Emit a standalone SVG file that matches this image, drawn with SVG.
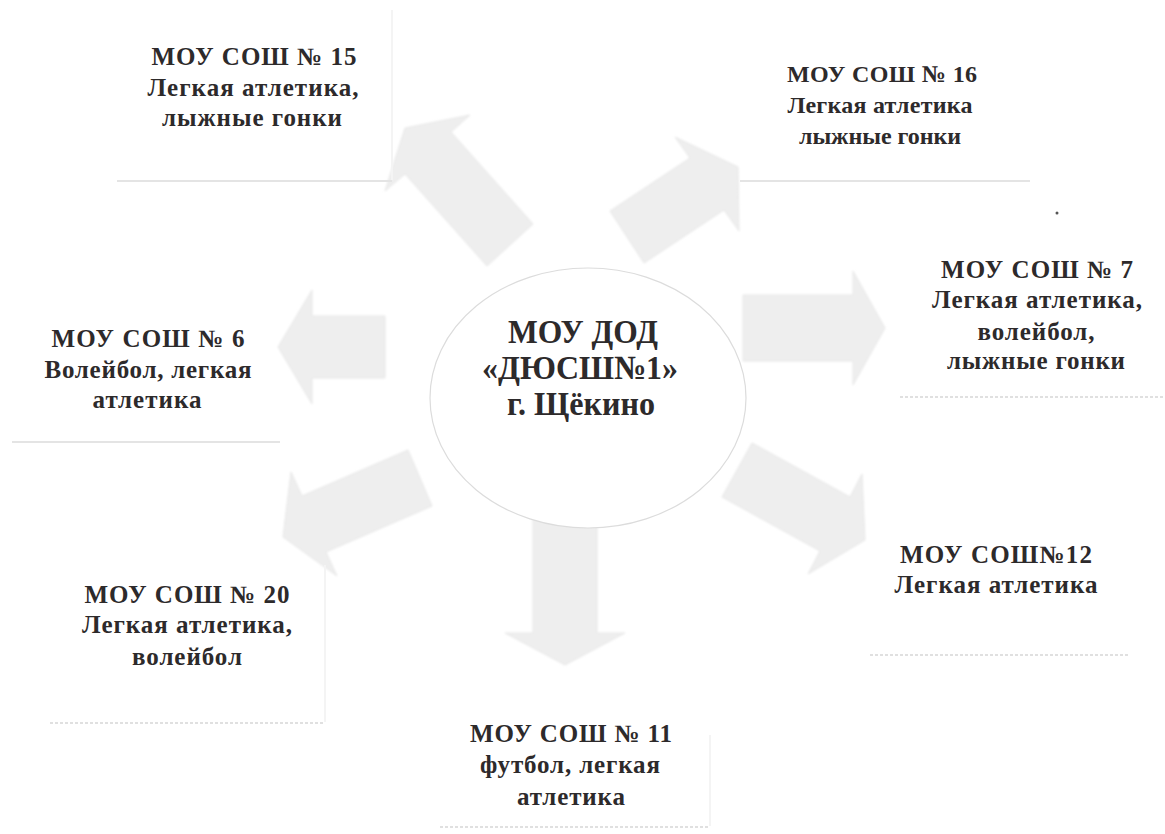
<svg xmlns="http://www.w3.org/2000/svg" width="1165" height="834" viewBox="0 0 1165 834">
<style>
.lbl{font-family:"Liberation Serif","Times New Roman",serif;font-weight:bold;font-size:25px;fill:#2d2a2b;text-anchor:middle}
.sm{font-size:24px}
.ctr{font-family:"Liberation Serif","Times New Roman",serif;font-weight:bold;font-size:34px;fill:#2d2a2b;text-anchor:middle}
.arrow{fill:#eeeeee;stroke:#e7e7e7;stroke-width:1}
.edge{fill:none;stroke:#f4f4f4;stroke-width:2}
.shadow{fill:none;stroke:#e4e4e4;stroke-width:2}
.dotted{fill:none;stroke:#e0e0e0;stroke-width:2;stroke-dasharray:3 2}
</style>
<defs>
<filter id="soft" x="-10%" y="-10%" width="120%" height="120%"><feGaussianBlur stdDeviation="1.2"/></filter>
</defs>
<rect x="0" y="0" width="1165" height="834" fill="#ffffff"/>
<g id="connectors" filter="url(#soft)">
<polygon class="arrow" points="533,224 451,132 470,115 405,128 385,191 405,174 487,266"/>
<polygon class="arrow" points="610,211 690,158 675,137 738,167 739,231 724,210 644,263"/>
<polygon class="arrow" points="385,316 312,316 312,290 278,347 312,404 312,378 385,378"/>
<polygon class="arrow" points="743,295 853,295 853,271 885,328 853,385 853,361 743,361"/>
<polygon class="arrow" points="408,450 302,496 291,472 283,537 337,576 326,552 432,506"/>
<polygon class="arrow" points="752,443 850,497 862,474 865,540 808,574 820,551 722,497"/>
<polygon class="arrow" points="533,515 533,633 505,633 565,665 625,633 597,633 597,515"/>
</g>
<g id="center">
<ellipse cx="588" cy="398" rx="158" ry="130" fill="#ffffff" stroke="#dcdcdc" stroke-width="1.2"/>
<text class="ctr" x="583" y="343" textLength="150" lengthAdjust="spacingAndGlyphs">МОУ ДОД</text>
<text class="ctr" x="580" y="379" textLength="196" lengthAdjust="spacingAndGlyphs">«ДЮСШ№1»</text>
<text class="ctr" x="581" y="415" textLength="148" lengthAdjust="spacingAndGlyphs">г. Щёкино</text>
</g>
<g id="school15">
<path class="edge" d="M392,10 V180"/>
<path class="shadow" d="M117,181 H392"/>
<text class="lbl" x="254" y="65" textLength="205" lengthAdjust="spacing">МОУ СОШ № 15</text>
<text class="lbl" x="253" y="96" textLength="211" lengthAdjust="spacing">Легкая атлетика,</text>
<text class="lbl" x="252" y="126" textLength="180" lengthAdjust="spacing">лыжные гонки</text>
</g>
<g id="school16">
<path class="shadow" d="M740,181 H1030"/>
<text class="lbl sm" x="882" y="82" textLength="190" lengthAdjust="spacing">МОУ СОШ № 16</text>
<text class="lbl sm" x="880" y="113" textLength="185" lengthAdjust="spacing">Легкая атлетика</text>
<text class="lbl sm" x="880" y="144" textLength="162" lengthAdjust="spacing">лыжные гонки</text>
</g>
<g id="school6">
<path class="shadow" d="M12,442 H280"/>
<text class="lbl" x="148" y="347" textLength="193" lengthAdjust="spacing">МОУ СОШ № 6</text>
<text class="lbl" x="148" y="378" textLength="207" lengthAdjust="spacing">Волейбол, легкая</text>
<text class="lbl" x="147" y="408" textLength="109" lengthAdjust="spacing">атлетика</text>
</g>
<g id="school20">
<path class="edge" d="M325,565 V722"/>
<path class="dotted" d="M50,723 H325"/>
<text class="lbl" x="187" y="603" textLength="205" lengthAdjust="spacing">МОУ СОШ № 20</text>
<text class="lbl" x="187" y="633" textLength="210" lengthAdjust="spacing">Легкая атлетика,</text>
<text class="lbl" x="187" y="665" textLength="110" lengthAdjust="spacing">волейбол</text>
</g>
<g id="school7">
<path class="dotted" d="M900,397 H1165"/>
<text class="lbl" x="1037" y="278" textLength="192" lengthAdjust="spacing">МОУ СОШ № 7</text>
<text class="lbl" x="1037" y="308" textLength="210" lengthAdjust="spacing">Легкая атлетика,</text>
<text class="lbl" x="1036" y="340" textLength="117" lengthAdjust="spacing">волейбол,</text>
<text class="lbl" x="1036" y="369" textLength="178" lengthAdjust="spacing">лыжные гонки</text>
</g>
<g id="school12">
<path class="dotted" d="M870,655 H1130"/>
<text class="lbl" x="996" y="563" textLength="192" lengthAdjust="spacing">МОУ СОШ№12</text>
<text class="lbl" x="996" y="593" textLength="203" lengthAdjust="spacing">Легкая атлетика</text>
</g>
<g id="school11">
<path class="edge" d="M710,735 V826"/>
<path class="dotted" d="M440,827 H710"/>
<text class="lbl" x="571" y="742" textLength="202" lengthAdjust="spacing">МОУ СОШ № 11</text>
<text class="lbl" x="570" y="773" textLength="180" lengthAdjust="spacing">футбол, легкая</text>
<text class="lbl" x="571" y="805" textLength="108" lengthAdjust="spacing">атлетика</text>
</g>
<circle cx="1057" cy="213" r="1.5" fill="#555555"/>
</svg>
